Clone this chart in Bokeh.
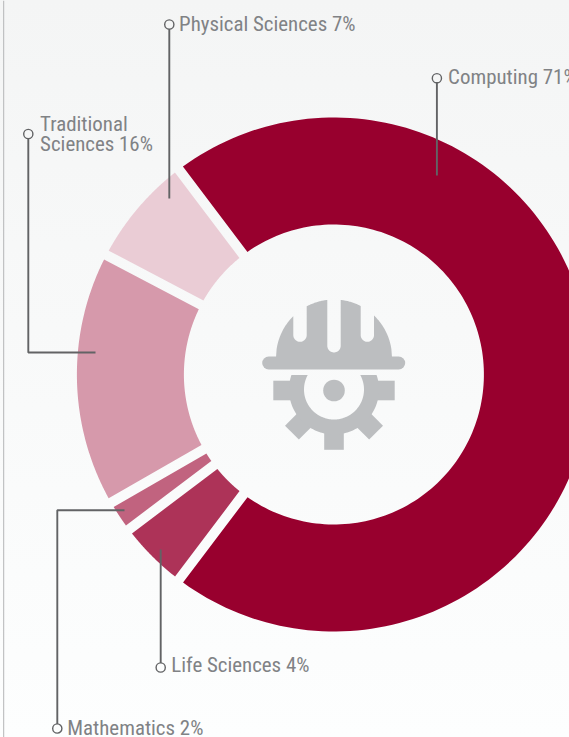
import numpy as np
from bokeh.plotting import figure
from bokeh.models import Range1d
from bokeh.core.properties import value
from bokeh.embed import file_html
from bokeh.resources import INLINE

# data: clockwise, starting with the largest share
categories = ["Computing", "Life Sciences", "Mathematics", "Traditional Sciences", "Physical Sciences"]
shares = [70.6, 4.4, 2.0, 16.0, 7.0]
colors = ["#98002e", "#ad3358", "#c1637f", "#d699ab", "#eaccd5"]

ICON = "#bcbec0"
LEADER = "#626365"
TEXT = "#808285"
FONT = "Roboto Condensed"
FS = "20.9px"

# one data unit = one page pixel
p = figure(width=569, height=737, x_range=Range1d(0, 569), y_range=Range1d(737, 0),
           x_axis_type=None, y_axis_type=None, toolbar_location=None, output_backend="svg",
           min_border=0, outline_line_color=None,
           background_fill_alpha=0, border_fill_alpha=0)
p.grid.visible = False

CX, CY, RO, RI, GAP = 333.4, 374.0, 257.0, 150.0, 10.0
START = -37.1


def ring_slice(a0, a1):
    d = GAP / 2
    ao = np.radians(np.linspace(a0 + np.degrees(np.arcsin(d / RO)), a1 - np.degrees(np.arcsin(d / RO)), 160))
    ai = np.radians(np.linspace(a1 - np.degrees(np.arcsin(d / RI)), a0 + np.degrees(np.arcsin(d / RI)), 160))
    xs = np.concatenate([CX + RO * np.sin(ao), CX + RI * np.sin(ai)])
    ys = np.concatenate([CY - RO * np.cos(ao), CY - RI * np.cos(ai)])
    return xs.tolist(), ys.tolist()


edges = START + np.concatenate([[0], np.cumsum(shares)]) * 3.6
polys = [ring_slice(edges[i], edges[i + 1]) for i in range(len(shares))]
p.patches([q[0] for q in polys], [q[1] for q in polys], fill_color=colors, line_color=None)

p.line([3.2, 3.2], [0, 737], line_color="#b4b5b7", line_width=1)


# ---- icon: gear, built without any background-coloured cover ----
def bar(angle_deg, r0, r1, width=19.6, cx=333.5, cy=390.0):
    t = np.radians(angle_deg)
    ux, uy = np.sin(t), -np.cos(t)
    vx, vy = -uy, ux
    w = width / 2
    return ([cx + r0 * ux - w * vx, cx + r0 * ux + w * vx, cx + r1 * ux + w * vx, cx + r1 * ux - w * vx],
            [cy + r0 * uy - w * vy, cy + r0 * uy + w * vy, cy + r1 * uy + w * vy, cy + r1 * uy - w * vy])


teeth = [bar(a, 36, l) for a, l in [(90, 60.7), (135, 59.5), (180, 59.3), (225, 59.5), (270, 60.7)]]
p.patches([t[0] for t in teeth], [t[1] for t in teeth], fill_color=ICON, line_color=None)

GCX, GCY, GO, GI, GTOP = 333.5, 389.0, 45.0, 30.0, 374.4
a_o = np.arccos((GCY - GTOP) / GO)
a_i = np.arccos((GCY - GTOP) / GI)
to = np.linspace(a_o, 2 * np.pi - a_o, 120)
ti = np.linspace(2 * np.pi - a_i, a_i, 120)
p.patch(np.concatenate([GCX + GO * np.sin(to), GCX + GI * np.sin(ti)]).tolist(),
        np.concatenate([GCY - GO * np.cos(to), GCY - GI * np.cos(ti)]).tolist(),
        fill_color=ICON, line_color=None)
p.circle([333.5], [390], radius=10.8, fill_color=ICON, line_color=None)

# ---- icon: hard hat with three slots ----
HCX, HCY, HR = 333.5, 357.0, 58.0
slots = [(292.8, 306.2, 341.3), (326.8, 340.2, 352.0), (360.2, 373.5, 341.3)]
hx, hy = [HCX - HR], [HCY + 2]


def arc_to(x_from, x_to):
    xs = np.linspace(x_from, x_to, 30)
    return xs.tolist(), (HCY - np.sqrt(HR ** 2 - (xs - HCX) ** 2)).tolist()


cur = HCX - HR
for x0, x1, yb in slots:
    ax, ay = arc_to(cur, x0)
    hx += ax
    hy += ay
    r = (x1 - x0) / 2
    th = np.radians(np.linspace(180, 360, 24))
    hx += ((x0 + x1) / 2 + r * np.cos(th)).tolist()
    hy += (yb - r - r * np.sin(th)).tolist()
    cur = x1
ax, ay = arc_to(cur, HCX + HR)
hx += ax + [HCX + HR]
hy += ay + [HCY + 2]
p.patch(hx, hy, fill_color=ICON, line_color=None)
p.line([268.2, 398.2], [362.5, 362.5], line_color=ICON, line_width=13, line_cap="round")

# ---- leaders ----
R_DOT = 4.6
leaders = [
    ([168.8, 168.8], [24, 198]),
    ([436.4, 436.4], [77.7, 175]),
    ([27.8, 27.8, 95], [133.5, 352, 352]),
    ([56.8, 56.8, 124], [728, 509.7, 509.7]),
    ([160.2, 160.2], [667, 549]),
]
for xs, ys in leaders:
    sign = 1 if ys[1] > ys[0] else -1
    p.line(xs, [ys[0] + sign * R_DOT] + ys[1:], line_color=LEADER, line_width=1.9)
p.circle([q[0][0] for q in leaders], [q[1][0] for q in leaders], radius=R_DOT,
         fill_alpha=0, line_color=LEADER, line_width=1.4)


# ---- labels ----
def lab(i):
    return f"{round(shares[i])}%"


texts = [
    (178.6, 23.3, f"{categories[4]} {lab(4)}"),
    (447.6, 76.3, f"{categories[0]} {lab(0)}"),
    (39.6, 123.6, "Traditional"),
    (39.6, 143.4, f"Sciences {lab(3)}"),
    (170.8, 664.3, f"{categories[1]} {lab(1)}"),
    (66.8, 727.3, f"{categories[2]} {lab(2)}"),
]
p.text([t[0] for t in texts], [t[1] for t in texts], text=[t[2] for t in texts],
        text_font=value(FONT), text_font_size=FS, text_color=TEXT,
        text_align="left", text_baseline="middle")

css = """<style>
html{height:100%;overflow:hidden;background:linear-gradient(180deg,#f4f5f5 0%,#fdfefe 100%);}
body{margin:0;background:transparent;}
</style>"""
html = file_html(p, INLINE, title="Share by field").replace("</head>", css + "</head>", 1)
open("out.html", "w").write(html)
